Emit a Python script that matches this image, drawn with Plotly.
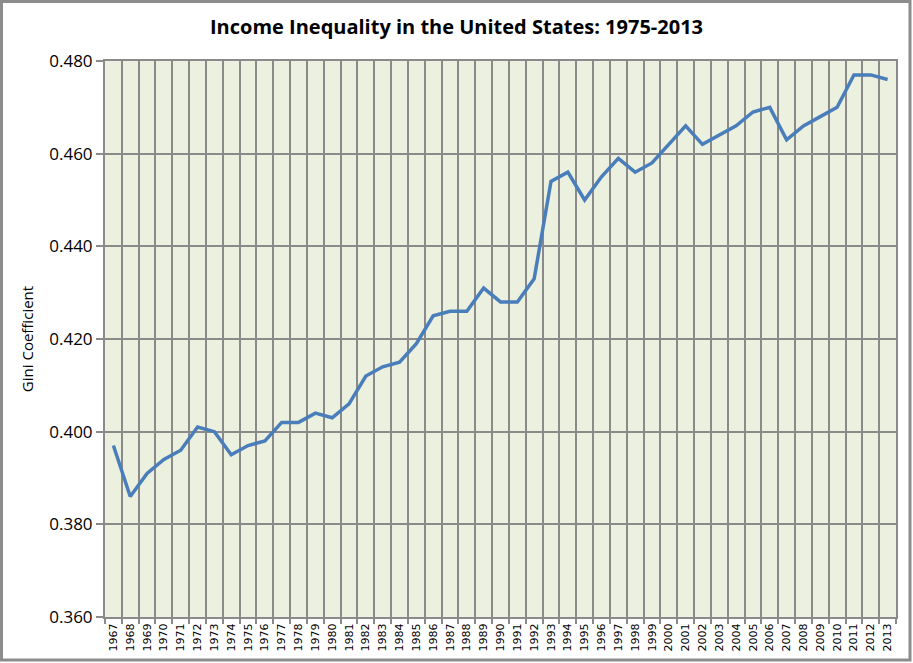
import plotly.graph_objects as go

years = [str(y) for y in range(1967, 2014)]
gini = [0.397, 0.386, 0.391, 0.394, 0.396, 0.401, 0.400, 0.395, 0.397, 0.398,
        0.402, 0.402, 0.404, 0.403, 0.406, 0.412, 0.414, 0.415, 0.419, 0.425,
        0.426, 0.426, 0.431, 0.428, 0.428, 0.433, 0.454, 0.456, 0.450, 0.455,
        0.459, 0.456, 0.458, 0.462, 0.466, 0.462, 0.464, 0.466, 0.469, 0.470,
        0.463, 0.466, 0.468, 0.470, 0.477, 0.477, 0.476]
y_ticks = [0.360, 0.380, 0.400, 0.420, 0.440, 0.460, 0.480]

W, H = 913, 663
ml, mr, mt, mb = 105, 17, 61, 46
pw, ph = W - ml - mr, H - mt - mb

grid = '#8A8A8A'

fig = go.Figure()
fig.add_trace(go.Scatter(
    x=years, y=gini, mode='lines',
    line=dict(color='#4A7EBB', width=3.5),
    showlegend=False
))

fig.update_layout(
    width=W, height=H,
    margin=dict(l=ml, r=mr, t=mt, b=mb),
    paper_bgcolor='white',
    plot_bgcolor='#EBF1DE',
    title=dict(text='<b>Income Inequality in the United States: 1975-2013</b>',
               x=0.5, xanchor='center', y=1 - 27 / H, yanchor='middle',
               font=dict(family='Open Sans', size=20, color='black')),
    xaxis=dict(
        type='category', tickson='boundaries',
        showgrid=True, gridcolor=grid, gridwidth=2,
        showline=True, linecolor=grid, linewidth=2, mirror=True,
        ticks='outside', ticklen=5, tickcolor=grid, tickwidth=2,
        tickangle=-90, tickfont=dict(family='DejaVu Sans', size=11, color='black'),
        range=[-0.5, len(years) - 0.5],
    ),
    yaxis=dict(
        range=[0.36, 0.48], tickvals=y_ticks, tickformat='.3f',
        showgrid=True, gridcolor=grid, gridwidth=2,
        showline=True, linecolor=grid, linewidth=2, mirror=True,
        ticks='outside', ticklen=7, tickcolor=grid, tickwidth=2,
        tickfont=dict(family='Open Sans', size=17, color='black'),
        title=dict(text='Gini Coefficient', standoff=12,
                   font=dict(family='Open Sans', size=15, color='black')),
        zeroline=False,
    ),
    shapes=[dict(
        type='rect', xref='paper', yref='paper',
        x0=-(ml - 1.5) / pw, x1=1 + (mr - 3) / pw,
        y0=-(mb - 3) / ph, y1=1 + (mt - 1.5) / ph,
        line=dict(color='#8C8C8C', width=3), fillcolor='rgba(0,0,0,0)',
        layer='above'
    )],
)

# drop the default page margin so the chart sits at the window corner
fig.write_html("out.html", config={'displayModeBar': False},
               post_script="document.body.style.margin='0';")
